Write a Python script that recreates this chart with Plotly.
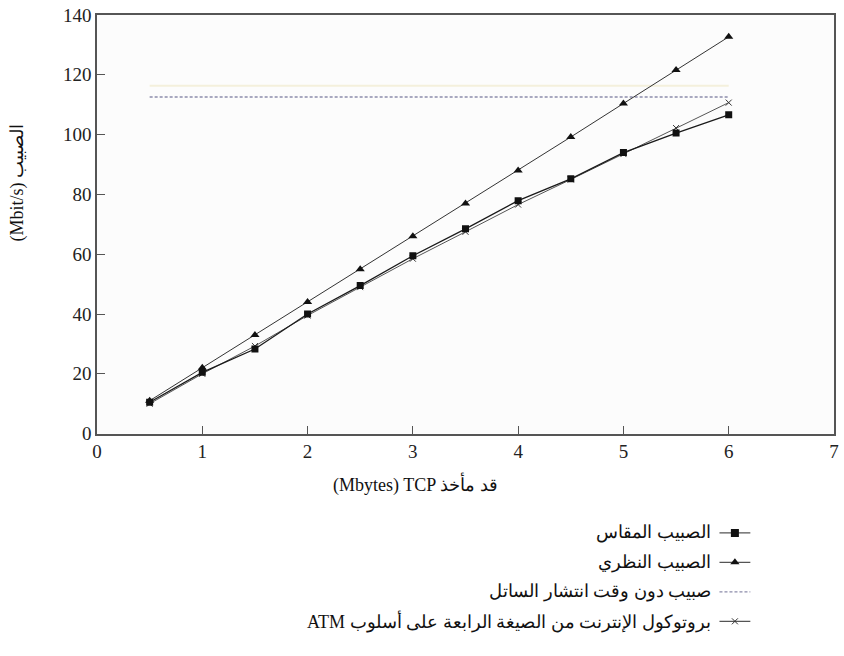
import plotly.graph_objects as go

# ---- data ----
tcp_mbytes = [0.5, 1, 1.5, 2, 2.5, 3, 3.5, 4, 4.5, 5, 5.5, 6]
measured = [10.5, 20.5, 28.3, 40.0, 49.5, 59.5, 68.5, 77.9, 85.2, 94.0, 100.5, 106.6]
theoretical = [11, 22, 33, 44, 55, 66, 77, 88, 99.2, 110.4, 121.6, 132.7]
no_delay = [112.6, 112.6, 112.6, 112.6, 112.6, 112.6, 112.6, 112.6, 112.6, 112.6, 112.6, 112.6]
faint_band = [116.3, 116.3, 116.3, 116.3, 116.3, 116.3, 116.3, 116.3, 116.3, 116.3, 116.3, 116.3]
ipv4_atm = [10.0, 20.0, 29.3, 39.5, 49.0, 58.5, 67.5, 76.6, 85.0, 93.5, 102.2, 110.7]

x_ticks = [0, 1, 2, 3, 4, 5, 6, 7]
y_ticks = [0, 20, 40, 60, 80, 100, 120, 140]

legend_labels = [
    "الصبيب المقاس",
    "الصبيب النظري",
    "صبيب دون وقت انتشار الساتل",
    "ATM " + "بروتوكول الإنترنت من الصيغة الرابعة على أسلوب",
]
x_title = "(Mbytes) TCP قد مأخذ"
y_title = "(Mbit/s) الصبيب"

FONT = "'Liberation Serif', 'DejaVu Serif', serif"
AX = "#555555"

fig = go.Figure()

# plot-area background (only for the main subplot)
fig.add_shape(type="rect", xref="x domain", yref="y domain", x0=0, x1=1, y0=0, y1=1,
              fillcolor="#fcfcfc", line=dict(width=0), layer="below")

# faint yellowish ghost line
fig.add_trace(go.Scatter(x=tcp_mbytes, y=faint_band, mode="lines",
                         line=dict(color="#f4f0dc", width=2), hoverinfo="skip", showlegend=False))
# dashed line
fig.add_trace(go.Scatter(x=tcp_mbytes, y=no_delay, mode="lines",
                         line=dict(color="#8c8caa", width=1.6, dash="3px,2px"), showlegend=False))
# theoretical
fig.add_trace(go.Scatter(x=tcp_mbytes, y=theoretical, mode="lines+markers",
                         line=dict(color="#333333", width=1),
                         marker=dict(symbol="triangle-up", size=8, color="#111111"), showlegend=False))
# ipv4 over ATM
fig.add_trace(go.Scatter(x=tcp_mbytes, y=ipv4_atm, mode="lines+markers",
                         line=dict(color="#555555", width=1),
                         marker=dict(symbol="x-thin", size=6, line=dict(color="#333333", width=1)),
                         showlegend=False))
# measured
fig.add_trace(go.Scatter(x=tcp_mbytes, y=measured, mode="lines+markers",
                         line=dict(color="#1a1a1a", width=1.3),
                         marker=dict(symbol="square", size=7, color="#111111"), showlegend=False))

# ---- custom right-to-left legend on an overlay axis ----
rows = [3.5, 2.5, 1.5, 0.5]
styles = [
    dict(line=dict(color="#555555", width=1.2), marker=dict(symbol="square", size=8, color="#111111")),
    dict(line=dict(color="#555555", width=1.2), marker=dict(symbol="triangle-up", size=8, color="#111111")),
    dict(line=dict(color="#8c8caa", width=1.4, dash="3px,2px"), marker=None),
    dict(line=dict(color="#555555", width=1.2), marker=dict(symbol="x-thin", size=6, line=dict(color="#333333", width=1))),
]
for r, st in zip(rows, styles):
    fig.add_trace(go.Scatter(x=[722, 753], y=[r, r], xaxis="x2", yaxis="y2", mode="lines",
                             line=st["line"], showlegend=False, hoverinfo="skip"))
    if st["marker"] is not None:
        fig.add_trace(go.Scatter(x=[737.5], y=[r], xaxis="x2", yaxis="y2", mode="markers",
                                 marker=st["marker"], showlegend=False, hoverinfo="skip"))

annotations = []
for r, lab in zip(rows, legend_labels):
    annotations.append(dict(x=716, y=r, xref="x2", yref="y2", text=lab, showarrow=False,
                            xanchor="right", yanchor="middle",
                            font=dict(family=FONT, size=18, color="#111111")))

annotations.append(dict(x=(417 - 97) / 740, y=(651 - 492) / 636, xref="paper", yref="paper",
                        text=x_title, showarrow=False, xanchor="center", yanchor="middle",
                        font=dict(family=FONT, size=18, color="#111111")))
annotations.append(dict(x=(17 - 97) / 740, y=(651 - 185) / 636, xref="paper", yref="paper",
                        text=y_title, showarrow=False, xanchor="center", yanchor="middle",
                        textangle=-90, font=dict(family=FONT, size=18, color="#111111")))

fig.update_layout(
    width=844, height=656,
    margin=dict(l=97, r=7, t=15, b=5),
    paper_bgcolor="white",
    plot_bgcolor="white",
    showlegend=False,
    font=dict(family=FONT, size=18, color="#222222"),
    xaxis=dict(range=[0, 7], tickvals=x_ticks, ticktext=[str(v) for v in x_ticks],
               showgrid=False, zeroline=False, showline=True, linecolor=AX, linewidth=1.5,
               mirror=True, ticks="inside", ticklen=8, tickcolor=AX, tickwidth=1,
               tickfont=dict(family=FONT, size=19, color="#222222"), anchor="y"),
    yaxis=dict(range=[0, 140], tickvals=y_ticks, ticktext=[str(v) for v in y_ticks],
               domain=[(651 - 441) / 636, 1],
               showgrid=False, zeroline=False, showline=True, linecolor=AX, linewidth=1.5,
               mirror=True, ticks="inside", ticklen=8, tickcolor=AX, tickwidth=1,
               tickfont=dict(family=FONT, size=19, color="#222222"), anchor="x"),
    xaxis2=dict(range=[97, 837], domain=[0, 1], visible=False, anchor="y2", fixedrange=True),
    yaxis2=dict(range=[0, 4], domain=[(651 - 647) / 636, (651 - 527) / 636], visible=False,
                anchor="x2", fixedrange=True),
    annotations=annotations,
)

fig.write_html("out.html")
